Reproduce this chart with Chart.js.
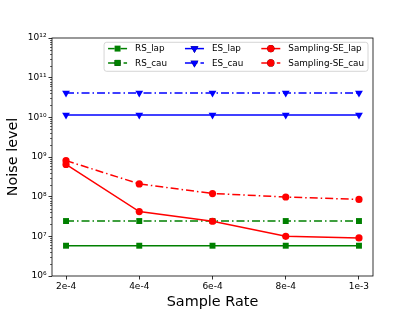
<!DOCTYPE html>
<html>
<head>
<meta charset="utf-8">
<script src="https://cdn.jsdelivr.net/npm/chart.js@4/dist/chart.umd.min.js"></script>
<style>
  html, body { margin: 0; padding: 0; background: #fff; }
  #wrap { width: 415px; height: 311px; }
</style>
</head>
<body>
<div id="wrap"><canvas id="chart" width="415" height="311"></canvas></div>
<script>
/* ── Data ────────────────────────────────────────────── */
const sampleRates = [2e-4, 4e-4, 6e-4, 8e-4, 1e-3];
const rateLabels  = ['2e-4', '4e-4', '6e-4', '8e-4', '1e-3'];

const rsLap = [5.8e6, 5.8e6, 5.8e6, 5.8e6, 5.8e6];
const rsCau = [2.43e7, 2.43e7, 2.43e7, 2.43e7, 2.43e7];
const esLap = [1.15e10, 1.15e10, 1.15e10, 1.15e10, 1.15e10];
const esCau = [4.1e10, 4.1e10, 4.1e10, 4.1e10, 4.1e10];
const seLap = [6.5e8, 4.2e7, 2.4e7, 1.0e7, 9.1e6];
const seCau = [8.1e8, 2.1e8, 1.2e8, 9.8e7, 8.5e7];

const yTickValues = [1e6, 1e7, 1e8, 1e9, 1e10, 1e11, 1e12];
const yTickLabels = ['10⁶', '10⁷', '10⁸', '10⁹', '10¹⁰', '10¹¹', '10¹²'];

const FONT = "'DejaVu Sans', sans-serif";
const DASHDOT = [8, 3, 1.5, 3];

// ── helpers ──────────────────────────────────────────────
const pts = ys => ys.map((y, i) => ({ x: sampleRates[i], y }));

function series(label, ys, color, marker, dashed, order) {
    return {
        label,
        data: pts(ys),
        borderColor: color,
        backgroundColor: color,
        borderWidth: 1.5,
        borderDash: dashed ? DASHDOT : [],
        pointStyle: marker,
        pointRotation: marker === 'triangle' ? 180 : 0,
        pointRadius: marker === 'rect' ? 4.2 : marker === 'triangle' ? 4.5 : 3.6,
        pointBorderWidth: 0,
        order,
        fill: false,
        tension: 0
    };
}

// ── plugin: frame, minor log ticks, legend ───────────────
const decor = {
    id: 'decor',
    afterDatasetsDraw(chart) {
        const { ctx, chartArea: a, scales } = chart;
        ctx.save();
        // frame
        ctx.strokeStyle = '#000';
        ctx.lineWidth = 0.8;
        ctx.strokeRect(a.left, a.top, a.right - a.left, a.bottom - a.top);
        // minor ticks on log axis
        ctx.lineWidth = 0.6;
        ctx.beginPath();
        for (let n = 6; n < 12; n++) {
            for (let k = 2; k <= 9; k++) {
                const y = Math.round(scales.y.getPixelForValue(k * Math.pow(10, n))) + 0.5;
                ctx.moveTo(a.left - 2, y);
                ctx.lineTo(a.left, y);
            }
        }
        ctx.stroke();
        ctx.restore();
    },
    afterDraw(chart) {
        const { ctx, chartArea: a } = chart;
        const ds = chart.data.datasets;
        const cols = [[0, 1], [2, 3], [4, 5]];
        const fs = 8.8, handleLen = 19, textPad = 8, colGap = 18, pad = 4;
        ctx.save();
        ctx.font = fs + 'px ' + FONT;
        const colW = cols.map(c => handleLen + textPad + Math.max(...c.map(i => ctx.measureText(ds[i].label).width)));
        const boxW = colW.reduce((s, w) => s + w, 0) + colGap * (cols.length - 1) + pad * 2;
        const boxH = 29;
        const bx = a.right - 5 - boxW, by = a.top + 4.3;
        // box
        ctx.beginPath();
        ctx.roundRect(bx, by, boxW, boxH, 2.5);
        ctx.fillStyle = 'rgba(255,255,255,0.8)';
        ctx.fill();
        ctx.strokeStyle = '#cccccc';
        ctx.lineWidth = 0.8;
        ctx.stroke();
        // entries
        let x = bx + pad;
        cols.forEach((c, ci) => {
            c.forEach((i, r) => {
                const d = ds[i];
                const y = by + 6.3 + r * 14.3;
                ctx.strokeStyle = d.borderColor;
                ctx.lineWidth = d.borderWidth;
                ctx.setLineDash(d.borderDash);
                ctx.beginPath();
                ctx.moveTo(x, y);
                ctx.lineTo(x + handleLen, y);
                ctx.stroke();
                ctx.setLineDash([]);
                Chart.helpers.drawPoint(ctx, {
                    pointStyle: d.pointStyle,
                    rotation: d.pointRotation,
                    radius: d.pointRadius,
                    borderWidth: 0
                }, x + handleLen / 2, y);
                ctx.fillStyle = d.backgroundColor;
                ctx.fill();
                ctx.fillStyle = '#000';
                ctx.textBaseline = 'middle';
                ctx.fillText(d.label, x + handleLen + textPad, y + 0.5);
            });
            x += colW[ci] + colGap;
        });
        ctx.restore();
    }
};

// ── chart ────────────────────────────────────────────────
new Chart(document.getElementById('chart'), {
    type: 'line',
    data: {
        datasets: [
            series('RS_lap', rsLap, '#008000', 'rect', false, 5),
            series('RS_cau', rsCau, '#008000', 'rect', true, 4),
            series('ES_lap', esLap, '#0000ff', 'triangle', false, 3),
            series('ES_cau', esCau, '#0000ff', 'triangle', true, 2),
            series('Sampling-SE_lap', seLap, '#ff0000', 'circle', false, 1),
            series('Sampling-SE_cau', seCau, '#ff0000', 'circle', true, 0)
        ]
    },
    options: {
        responsive: false,
        animation: false,
        devicePixelRatio: 1,
        layout: { padding: { left: 0, right: 42, top: 38, bottom: 0 } },
        plugins: { legend: { display: false }, tooltip: { enabled: false } },
        scales: {
            x: {
                type: 'linear',
                min: 1.617e-4,
                max: 10.383e-4,
                afterBuildTicks: s => { s.ticks = sampleRates.map(v => ({ value: v })); },
                afterFit: s => { s.height = 35; },
                ticks: {
                    color: '#000',
                    font: { family: FONT, size: 9 },
                    padding: 2,
                    maxRotation: 0,
                    callback: (v, i) => rateLabels[i]
                },
                grid: { drawOnChartArea: false, tickLength: 3.5, tickColor: '#000', tickWidth: 0.8 },
                border: { display: false },
                title: {
                    display: true, text: 'Sample Rate', color: '#000',
                    font: { family: FONT, size: 14.4 }, padding: { top: 1, bottom: 0 }
                }
            },
            y: {
                type: 'logarithmic',
                min: 1e6,
                max: 1e12,
                afterBuildTicks: s => { s.ticks = yTickValues.map(v => ({ value: v })); },
                afterFit: s => { s.width = 52; },
                ticks: {
                    color: '#000',
                    font: { family: FONT, size: 9 },
                    padding: 2,
                    callback: (v, i) => yTickLabels[i]
                },
                grid: { drawOnChartArea: false, tickLength: 3.5, tickColor: '#000', tickWidth: 0.8 },
                border: { display: false },
                title: {
                    display: true, text: 'Noise level', color: '#000',
                    font: { family: FONT, size: 14.4 }, padding: { top: 5, bottom: 0 }
                }
            }
        }
    },
    plugins: [decor]
});
</script>
</body>
</html>
